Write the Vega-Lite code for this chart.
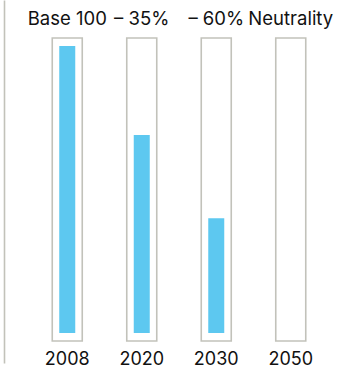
{
  "$schema": "https://vega.github.io/schema/vega-lite/v6.json",
  "width": 298,
  "height": 363,
  "autosize": {"type": "none"},
  "padding": {"left": 30, "top": 0, "right": 16, "bottom": 6},
  "background": "white",
  "config": {"view": {"stroke": null}},
  "data": {
    "values": [
      {"year": "2008", "label": "Base 100", "value": 100},
      {"year": "2020", "label": "– 35%", "value": 69},
      {"year": "2030", "label": "– 60%", "value": 40},
      {"year": "2050", "label": "Neutrality", "value": 0}
    ]
  },
  "encoding": {
    "x": {
      "field": "year",
      "type": "ordinal",
      "sort": null,
      "scale": {"type": "band", "paddingInner": 0, "paddingOuter": 0},
      "axis": null
    }
  },
  "layer": [
    {
      "mark": {"type": "bar", "width": 30, "fill": "white", "stroke": "#c2c2ba", "strokeWidth": 1.6},
      "encoding": {
        "y": {
          "datum": -2.8,
          "type": "quantitative",
          "scale": {"domain": [-10.45, 116.03], "nice": false, "zero": false},
          "axis": {"orient": "left", "offset": 26, "labels": false, "ticks": false, "grid": false, "title": null, "domainColor": "#c2c2ba", "domainWidth": 1.6}
        },
        "y2": {"datum": 102.8}
      }
    },
    {
      "mark": {"type": "bar", "width": 16, "color": "#5dc8f0"},
      "encoding": {
        "y": {"field": "value", "type": "quantitative"},
        "y2": {"datum": 0}
      }
    },
    {
      "mark": {"type": "text", "font": "Inter", "fontSize": 18.5, "color": "#111111", "baseline": "alphabetic"},
      "encoding": {
        "y": {"datum": 107.3, "type": "quantitative"},
        "text": {"field": "label"}
      }
    },
    {
      "mark": {"type": "text", "font": "Inter", "fontSize": 18, "color": "#111111", "baseline": "alphabetic"},
      "encoding": {
        "y": {"datum": -11.1, "type": "quantitative"},
        "text": {"field": "year"}
      }
    }
  ]
}
